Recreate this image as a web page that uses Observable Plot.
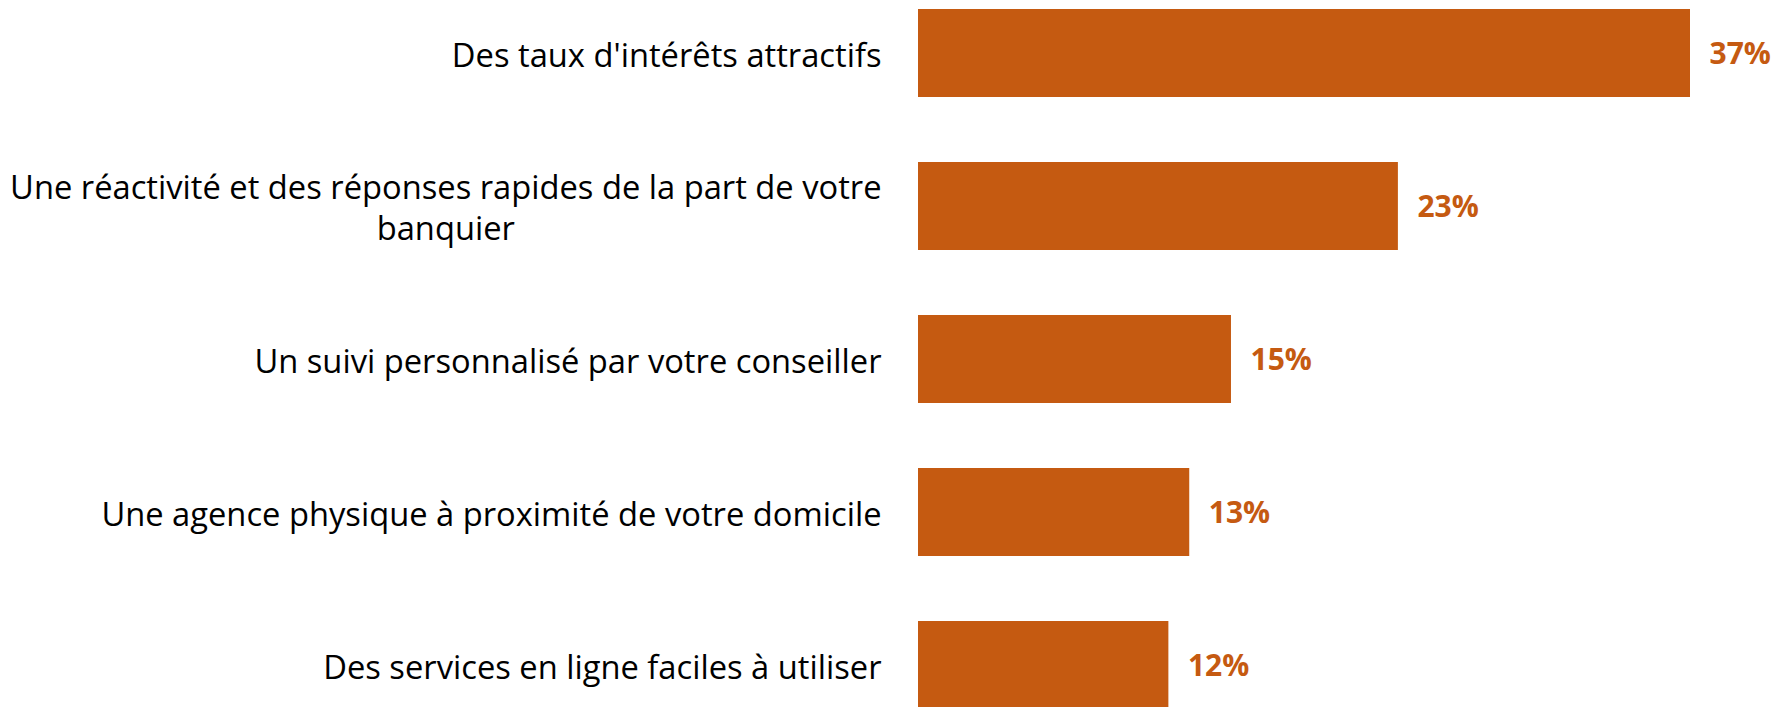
<!DOCTYPE html>
<html>
<head>
<meta charset="utf-8">
<script src="https://cdn.jsdelivr.net/npm/d3@7"></script>
<script src="https://cdn.jsdelivr.net/npm/@observablehq/plot@0.6"></script>
<style>
  html, body { margin: 0; padding: 0; background: #fff; }
  #chart svg { display: block; }
</style>
</head>
<body>
<div id="chart"></div>
<script>
const categories = [
  "Des taux d'intérêts attractifs",
  "Une réactivité et des réponses rapides de la part de votre\nbanquier",
  "Un suivi personnalisé par votre conseiller",
  "Une agence physique à proximité de votre domicile",
  "Des services en ligne faciles à utiliser"
];
const values = [37, 23, 15, 13, 12];
const valueLabels = ["37%", "23%", "15%", "13%", "12%"];

const data = categories.map((c, i) => ({category: c, value: values[i], label: valueLabels[i]}));

const ORANGE = "#C55A11";
const catFont = "'Open Sans', sans-serif";
const catSize = 32.7;
const gap = 37;

const ctx = document.createElement("canvas").getContext("2d");
ctx.font = `${catSize}px ${catFont}`;
const textWidth = s => Math.max(...s.split("\n").map(l => ctx.measureText(l).width));

const catMarks = data.map(d => Plot.text([d], {
  x: () => 0,
  y: "category",
  text: "category",
  textAnchor: "middle",
  lineAnchor: "middle",
  lineHeight: 1.26,
  dx: -(gap + textWidth(d.category) / 2),
  fill: "#000",
  fontSize: catSize,
  fontFamily: catFont
}));

const chart = Plot.plot({
  width: 1790,
  height: 707,
  marginLeft: 0,
  marginRight: 0,
  marginTop: 0,
  marginBottom: 0,
  style: {background: "#fff"},
  x: {domain: [0, 37], range: [918, 1690], axis: null},
  y: {domain: categories, range: [9, 709], paddingInner: 0.425, paddingOuter: 0, axis: null},
  marks: [
    Plot.barX(data, {x: "value", y: "category", fill: ORANGE}),
    Plot.text(data, {
      x: "value",
      y: "category",
      text: "label",
      textAnchor: "start",
      dx: 19,
      dy: 1,
      fill: ORANGE,
      fontWeight: "bold",
      fontSize: 30,
      fontFamily: catFont
    }),
    ...catMarks
  ]
});
document.getElementById("chart").append(chart);
</script>
</body>
</html>
